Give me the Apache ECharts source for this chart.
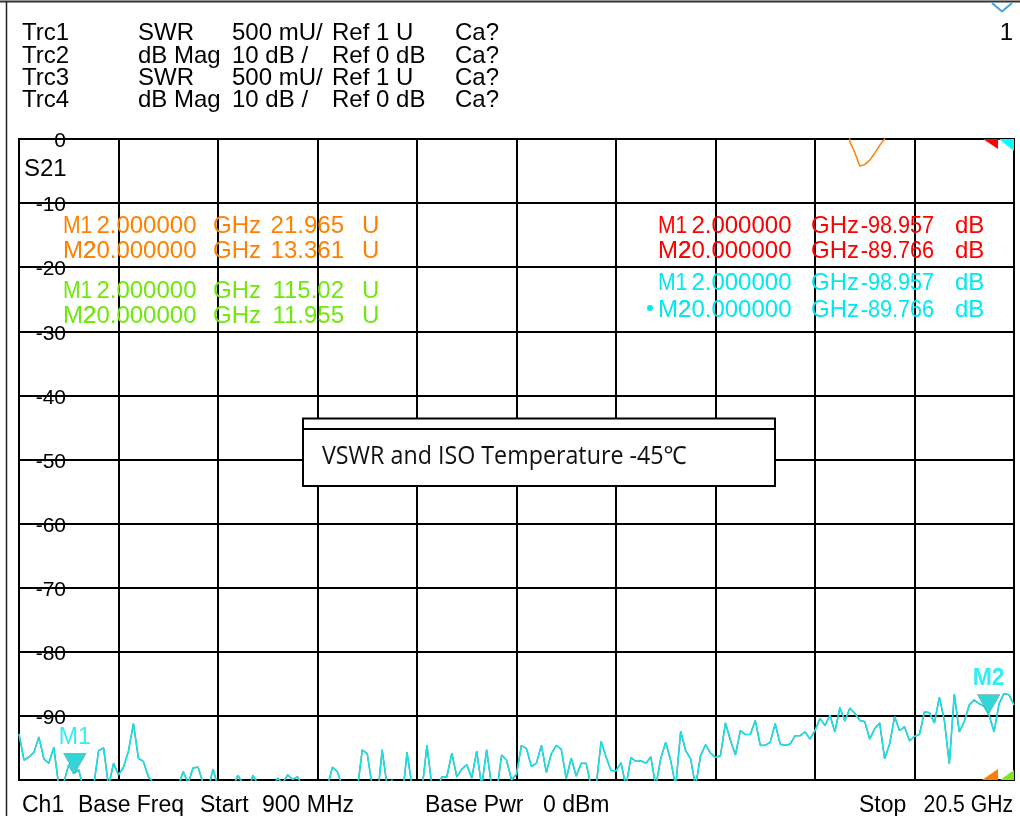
<!DOCTYPE html>
<html><head><meta charset="utf-8">
<script src="https://cdn.jsdelivr.net/npm/echarts@6/dist/echarts.min.js"></script>
<style>html,body{margin:0;padding:0;background:#fff}#c{width:1020px;height:816px}</style>
</head><body><div id="c"></div>
<script>
// ---------- sweep / axis ----------
const startGHz = 0.9, stopGHz = 20.5, sweepPoints = 201;
const sweepFreqGHz = Array.from({length: sweepPoints}, (_, i) => +(startGHz + i * (stopGHz - startGHz) / (sweepPoints - 1)).toFixed(3));
const dbTicks = [0, -10, -20, -30, -40, -50, -60, -70, -80, -90];

// ---------- Trc4 (S21 dB Mag, cyan) ----------
const trc4Db = [
 -92.8, -96.9, -96.4, -95.7, -93.3, -96.7, -97.4, -94.9, -101, -100.4,
 -97.6, -99.0, -98.4, -101.5, -103, -101, -95.4, -95.0, -101, -97.4,
 -99.2, -98.0, -95.5, -91.2, -96.6, -97.1, -99.5, -100.4, -102, -104,
 -101.5, -103, -101, -98.7, -100.5, -98.1, -98.0, -100.5, -101.5, -98.3,
 -101, -102, -103, -101, -99.3, -100.5, -102, -99.3, -100.5, -103,
 -102, -101, -99.7, -100.5, -99.2, -99.9, -99.5, -101, -103, -104,
 -102, -103, -101, -98.0, -98.7, -101, -103, -102, -101.5, -95.3,
 -95.9, -101, -103, -95.3, -101, -100, -102, -103, -95.7, -101,
 -100.3, -101.5, -94.6, -101, -101.5, -99.5, -99.5, -95.8, -99.5, -98.3,
 -97.6, -99.7, -95.5, -101, -95.3, -101, -102, -96.1, -96.9, -100,
 -99.1, -94.6, -95.1, -97.9, -97.4, -94.6, -98.8, -95.9, -94.6, -95.2,
 -99.8, -96.6, -99.4, -97.4, -97.4, -101, -101, -94.0, -96.4, -98.5,
 -98.6, -97.3, -101, -96.5, -97.1, -97.0, -97.4, -96.4, -101, -96.6,
 -94.1, -97.0, -101, -92.4, -95.4, -96.7, -101, -96.2, -94.5, -95.8,
 -96.5, -96.2, -91.1, -93.8, -96.1, -92.3, -92.9, -92.9, -90.7, -94.6,
 -94.6, -94.1, -91.2, -94.4, -94.6, -94.4, -93.1, -93.1, -92.5, -93.6,
 -92.3, -90.4, -91.5, -89.9, -92.5, -88.7, -90.8, -88.8, -89.6, -90.7,
 -90.9, -93.6, -92.0, -91.1, -96.7, -94.4, -90.1, -92.3, -91.7, -93.9,
 -93.2, -92.9, -89.4, -89.5, -91.1, -87.1, -90.7, -97.5, -86.6, -92.5,
 -90.9, -88.3, -87.5, -88.1, -88.5, -89.9, -92.5, -88.1, -86.5, -86.7,
 -88.3
];
// Trc2 (red) reads identical marker values and lies under Trc4
const trc2Db = trc4Db;

// ---------- Trc1 (SWR, orange) mostly above the 6 U top ----------
const trc1SwrFreq = [0.9, 2.0, 6.0, 10.0, 14.0, 16.0, 17.168, 17.266, 17.364, 17.462, 17.56, 17.658, 17.756, 17.854, 17.952, 18.05, 18.8, 20.0, 20.5];
const trc1Swr     = [19.8, 21.965, 16.4, 12.7, 9.6, 8.1, 6.6, 5.98, 5.895, 5.79, 5.80, 5.835, 5.89, 5.95, 6.0, 6.3, 9.2, 13.361, 12.6];
// ---------- Trc3 (SWR, green) off scale ----------
const trc3SwrFreq = [0.9, 2.0, 5.0, 10.0, 15.0, 20.0, 20.5];
const trc3Swr     = [88, 115.02, 64, 31, 18, 11.955, 12.4];

// ---------- markers ----------
const markerNames = ['M1', 'M2'];
const markerFreqGHz = [2.0, 20.0];
const trc1MarkerSwr = [21.965, 13.361];
const trc3MarkerSwr = [115.02, 11.955];
const trc2MarkerDb = [-98.957, -89.766];
const trc4MarkerDb = [-98.957, -89.766];

// ---------- header text ----------
const headerRows = [
  ['Trc1', 'SWR', '500 mU/', 'Ref 1 U', 'Ca?'],
  ['Trc2', 'dB Mag', '10 dB /', 'Ref 0 dB', 'Ca?'],
  ['Trc3', 'SWR', '500 mU/', 'Ref 1 U', 'Ca?'],
  ['Trc4', 'dB Mag', '10 dB /', 'Ref 0 dB', 'Ca?']
];
const footerTexts = ['Ch1', 'Base Freq', 'Start', '900 MHz', 'Base Pwr', '0 dBm', 'Stop', '20.5 GHz'];
const titleText = 'VSWR and ISO Temperature -45\u2103';

const C_CYAN = '#14e2e8', C_CYAN_TXT = '#00e8f0', C_RED = '#ff0000', C_ORANGE = '#ff8000', C_GREEN = '#6fe80c';
const FONT = '24px "Liberation Sans", Arial, sans-serif';
const FONT_FOOT = '23px "Liberation Sans", Arial, sans-serif';
const DY = 2.5;

const chart = echarts.init(document.getElementById('c'), null, {renderer: 'canvas'});

const triPath = 'path://M0,0 L23,0 L11.5,20 Z';
const option = {
  animation: false,
  backgroundColor: '#fff',
  grid: {left: 19, right: 6, top: 139, bottom: 36, show: true, borderColor: '#000', borderWidth: 2},
  xAxis: [
    {type: 'value', min: startGHz, max: stopGHz, axisLine: {show: false}, axisTick: {show: false}, axisLabel: {show: false}, splitLine: {show: false}},
    {type: 'value', min: 0, max: 10, interval: 1, position: 'top', axisLine: {show: false}, axisTick: {show: false}, axisLabel: {show: false},
     splitLine: {show: true, lineStyle: {color: '#000', width: 2}}}
  ],
  yAxis: [
    {type: 'value', min: -100, max: 0, interval: 10, z: 5, axisLine: {show: false}, axisTick: {show: false},
     splitLine: {show: false},
     axisLabel: {inside: true, margin: 47, align: 'right', showMinLabel: false,
       formatter: v => dbTicks.includes(v) ? '{s|}\n{a|' + v + '}' : '',
       rich: {
         s: {fontSize: 6, lineHeight: 5, height: 5},
         a: {color: '#000', fontSize: 21, lineHeight: 21, fontFamily: '"Liberation Sans", Arial'}
       }}},
    {type: 'value', min: 1, max: 6, interval: 0.5, axisLine: {show: false}, axisTick: {show: false}, axisLabel: {show: false}, splitLine: {show: false}},
    {type: 'value', min: -100, max: 0, interval: 10, z: 0, axisLine: {show: false}, axisTick: {show: false}, axisLabel: {show: false},
     splitLine: {show: true, lineStyle: {color: '#000', width: 2}}}
  ],
  series: [
    {name: 'Trc3', type: 'line', yAxisIndex: 1, symbol: 'none', clip: true, data: trc3SwrFreq.map((f, i) => [f, trc3Swr[i]]),
     lineStyle: {color: C_GREEN, width: 1.5}, z: 2},
    {name: 'Trc1', type: 'line', yAxisIndex: 1, symbol: 'none', clip: true, data: trc1SwrFreq.map((f, i) => [f, trc1Swr[i]]),
     lineStyle: {color: C_ORANGE, width: 1.5}, z: 2},
    {name: 'Trc2', type: 'line', symbol: 'none', clip: true, data: sweepFreqGHz.map((f, i) => [f, trc2Db[i]]),
     lineStyle: {color: C_RED, width: 1.2}, z: 3},
    {name: 'Trc4', type: 'line', symbol: 'none', clip: true, data: sweepFreqGHz.map((f, i) => [f, trc4Db[i]]),
     lineStyle: {color: C_CYAN, width: 1.7}, z: 4},
    {name: 'Trc2 markers', type: 'scatter', symbol: triPath, symbolSize: [23, 20], symbolOffset: [0, -10],
     itemStyle: {color: C_RED}, z: 5, silent: true,
     data: markerFreqGHz.map((f, i) => [f, trc2MarkerDb[i]])},
    {name: 'Trc4 markers', type: 'scatter', symbol: triPath, symbolSize: [23, 20], symbolOffset: [0, -10],
     itemStyle: {color: '#00ffff'}, z: 6, silent: true,
     data: markerFreqGHz.map((f, i) => ({value: [f, trc4MarkerDb[i]],
       label: i === 1 ? {fontWeight: 'bold', textShadowColor: C_RED, textShadowOffsetX: 1.5, textShadowOffsetY: 1, textShadowBlur: 0} : {}})),
     label: {show: true, position: 'top', distance: 4, color: C_CYAN_TXT, fontSize: 23, fontFamily: '"Liberation Sans", Arial',
       formatter: p => markerNames[p.dataIndex]}}
  ]
};
chart.setOption(option);

// ---------- graphic overlay ----------
const g = [];
function txt(x, y, text, fill, align, font, scaleX) {
  g.push({type: 'text', x: x, y: y + DY, z: 50, silent: true, scaleX: scaleX || 1,
    style: {text: text, fill: fill || '#000', font: font || FONT, align: align || 'left', verticalAlign: 'middle'}});
}
// frame
g.push({type: 'line', z: 40, silent: true, shape: {x1: 0, y1: 1.5, x2: 1020, y2: 1.5}, style: {stroke: '#333', lineWidth: 2}});
g.push({type: 'line', z: 40, silent: true, shape: {x1: 6.5, y1: 1.5, x2: 6.5, y2: 816}, style: {stroke: '#222', lineWidth: 1.5}});
g.push({type: 'polyline', z: 40, silent: true, shape: {points: [[992, 3], [1002, 11.5], [1012, 3]]}, style: {stroke: '#3fa3e3', lineWidth: 2, fill: null}});
txt(1013, 31, '1', '#000', 'right');
// header
const headerX = [22, 138, 232, 332, 455];
const headerY = [31, 53.5, 76, 98];
headerRows.forEach((row, r) => row.forEach((t, c) => txt(headerX[c], headerY[r], t)));
txt(24, 166.5, 'S21');
// footer
const footerX = [22, 78, 200, 262, 425, 543, 859, 1013];
footerTexts.forEach((t, i) => txt(footerX[i], 803, t, '#000', i === 7 ? 'right' : 'left', FONT_FOOT, i === 7 ? 0.92 : 1));

// marker readouts (stimulus right-aligned, so "M2" overlaps the leading "2" of 20.000000 as on the analyzer)
function readout(cols, y, name, stim, val, unit, color, valScale, nameScale) {
  txt(cols[0], y, name, color, 'left', FONT, nameScale);
  txt(cols[1], y, stim, color, 'right');
  txt(cols[2], y, 'GHz', color, 'left');
  txt(cols[3], y, val, color, 'right', FONT, valScale);
  txt(cols[4], y, unit, color, 'left');
}
const leftCols = [63, 196.5, 213, 344, 362];
const rightCols = [658, 791.5, 811, 934, 955];
markerNames.forEach((m, i) => {
  const ns = i === 0 ? 0.88 : 1;
  readout(leftCols, [223.5, 249][i], m, markerFreqGHz[i].toFixed(6), trc1MarkerSwr[i].toPrecision(5), 'U', C_ORANGE, 1, ns);
  readout(leftCols, [288.5, 314][i], m, markerFreqGHz[i].toFixed(6), trc3MarkerSwr[i].toPrecision(5), 'U', C_GREEN, 1, ns);
  readout(rightCols, [224, 249][i], m, markerFreqGHz[i].toFixed(6), trc2MarkerDb[i].toFixed(3), 'dB', C_RED, 0.9, ns);
  readout(rightCols, [281, 308][i], m, markerFreqGHz[i].toFixed(6), trc4MarkerDb[i].toFixed(3), 'dB', C_CYAN_TXT, 0.9, ns);
});
g.push({type: 'circle', z: 50, silent: true, shape: {cx: 650, cy: 308, r: 3}, style: {fill: C_CYAN_TXT}});

// reference-level indicators on the right edge
const xR = chart.convertToPixel({xAxisIndex: 0}, stopGHz);
const yTop = chart.convertToPixel({yAxisIndex: 0}, 0);
const yBot = chart.convertToPixel({yAxisIndex: 1}, 1);
g.push({type: 'polygon', z: 45, silent: true, shape: {points: [[xR - 31, yTop], [xR - 16, yTop], [xR - 16, yTop + 10]]}, style: {fill: C_RED}});
g.push({type: 'polygon', z: 45, silent: true, shape: {points: [[xR - 15, yTop], [xR, yTop], [xR, yTop + 12]]}, style: {fill: '#00ffff'}});
g.push({type: 'polygon', z: 45, silent: true, shape: {points: [[xR - 32, yBot], [xR - 16, yBot], [xR - 16, yBot - 11]]}, style: {fill: C_ORANGE}});
g.push({type: 'polygon', z: 45, silent: true, shape: {points: [[xR - 14, yBot], [xR, yBot], [xR, yBot - 10]]}, style: {fill: '#7fe81a'}});

// title box
g.push({type: 'rect', z: 60, silent: true, shape: {x: 303, y: 418.5, width: 472, height: 67.5}, style: {fill: '#fff', stroke: '#000', lineWidth: 2}});
g.push({type: 'line', z: 61, silent: true, shape: {x1: 303, y1: 429, x2: 775, y2: 429}, style: {stroke: '#000', lineWidth: 2}});
g.push({type: 'text', z: 62, silent: true, x: 322, y: 456.5, scaleX: 0.93,
  style: {text: titleText, fill: '#111', font: '25px "Open Sans", "Noto Sans", sans-serif', align: 'left', verticalAlign: 'middle'}});

chart.setOption({graphic: g});
</script>
</body></html>
